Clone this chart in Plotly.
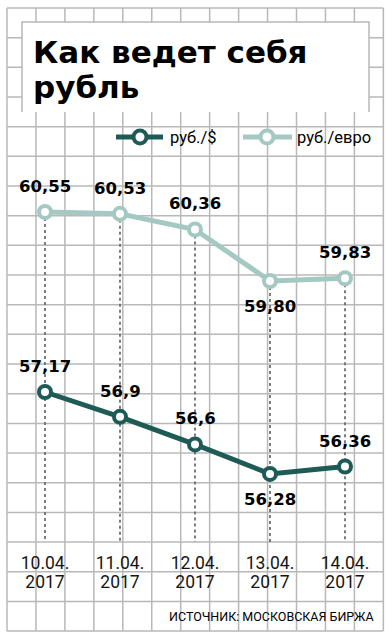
import plotly.graph_objects as go

# ---------------- data ----------------
DATES = ["10.04.2017", "11.04.2017", "12.04.2017", "13.04.2017", "14.04.2017"]
TICK_DAY = ["10.04.", "11.04.", "12.04.", "13.04.", "14.04."]
TICK_YEAR = ["2017", "2017", "2017", "2017", "2017"]
USD = [57.17, 56.9, 56.6, 56.28, 56.36]
EUR = [60.55, 60.53, 60.36, 59.80, 59.83]
USD_LABELS = ["57,17", "56,9", "56,6", "56,28", "56,36"]
EUR_LABELS = ["60,55", "60,53", "60,36", "59,80", "59,83"]
USD_NAME = "руб./$"
EUR_NAME = "руб./евро"
TITLE_1 = "Как ведет себя"
TITLE_2 = "рубль"
SOURCE = "ИСТОЧНИК: МОСКОВСКАЯ БИРЖА"

# label placement (style): +1 above, -1 below
USD_POS = [1, 1, 1, -1, 1]
EUR_POS = [1, 1, 1, -1, 1]

# ---------------- style ----------------
W, H = 392, 640
DARK = "#1f5b56"
LIGHT = "#a4c8c2"
GRID = "#b8b8b8"
PX_PER_UNIT = 92.0

def fx(x):
    return x / W

def fy(y):
    return 1 - y / H

# axis ranges so that both series share the same scale
EUR_TOP = 60.55 + 212 / PX_PER_UNIT
EUR_RANGE = [EUR_TOP - H / PX_PER_UNIT, EUR_TOP]
USD_TOP = 57.17 + 392 / PX_PER_UNIT
USD_RANGE = [USD_TOP - H / PX_PER_UNIT, USD_TOP]
DOT_BOTTOM = EUR_TOP - 542 / PX_PER_UNIT

fig = go.Figure()

fig.add_trace(go.Scatter(
    x=DATES, y=USD, mode="lines+markers", name=USD_NAME, yaxis="y2",
    line=dict(color=DARK, width=5),
    marker=dict(size=12, color="white", line=dict(color=DARK, width=4)),
    showlegend=False, hoverinfo="skip"))
fig.add_trace(go.Scatter(
    x=DATES, y=EUR, mode="lines+markers", name=EUR_NAME, yaxis="y",
    line=dict(color=LIGHT, width=5),
    marker=dict(size=12, color="white", line=dict(color=LIGHT, width=4)),
    showlegend=False, hoverinfo="skip"))

shapes = []
# background grid
VX = [7 + 28.95 * k for k in range(14)]
HY = [8 + 29.67 * k for k in range(22)]
for x in VX:
    shapes.append(dict(type="line", xref="paper", yref="paper",
                       x0=fx(x), x1=fx(x), y0=fy(HY[0]), y1=fy(HY[-1]),
                       line=dict(color=GRID, width=1.5), layer="between"))
for y in HY:
    shapes.append(dict(type="line", xref="paper", yref="paper",
                       x0=fx(VX[0]), x1=fx(VX[-1]), y0=fy(y), y1=fy(y),
                       line=dict(color=GRID, width=1.5), layer="between"))
# title box
shapes.append(dict(type="rect", xref="paper", yref="paper",
                   x0=fx(22), x1=fx(369), y0=fy(112), y1=fy(22),
                   fillcolor="white", line=dict(width=0), layer="between"))
shapes.append(dict(type="path", xref="paper", yref="paper",
                   path=f"M{fx(22)},{fy(112)} L{fx(22)},{fy(22)} L{fx(369)},{fy(22)} L{fx(369)},{fy(112)}",
                   line=dict(color=GRID, width=1.5), layer="between"))
# dotted drop lines
for d, v in zip(DATES, EUR):
    shapes.append(dict(type="line", xref="x", yref="y", x0=d, x1=d,
                       y0=v, y1=DOT_BOTTOM,
                       line=dict(color="#707070", width=1.8, dash="dot"),
                       layer="between"))
# legend symbols
for (x0, x1, cx, col) in [(116, 163, 140, DARK), (243, 292, 267, LIGHT)]:
    shapes.append(dict(type="line", xref="paper", yref="paper",
                       x0=fx(x0), x1=fx(x1), y0=fy(137), y1=fy(137),
                       line=dict(color=col, width=5), layer="above"))
    shapes.append(dict(type="circle", xref="paper", yref="paper",
                       x0=fx(cx - 6.5), x1=fx(cx + 6.5), y0=fy(137 + 6.5), y1=fy(137 - 6.5),
                       fillcolor="white", line=dict(color=col, width=4), layer="above"))

annotations = []
LABEL_FONT = dict(family="DejaVu Sans", size=16.5, color="black", weight="bold")
for d, v, t, p in zip(DATES, USD, USD_LABELS, USD_POS):
    annotations.append(dict(x=d, y=v, xref="x", yref="y2", text=t, showarrow=False,
                            yshift=25.5 * p, font=LABEL_FONT))
for d, v, t, p in zip(DATES, EUR, EUR_LABELS, EUR_POS):
    annotations.append(dict(x=d, y=v, xref="x", yref="y", text=t, showarrow=False,
                            yshift=25.5 * p, font=LABEL_FONT))

TITLE_FONT = dict(family="DejaVu Sans", size=31, color="black", weight="bold")
annotations.append(dict(x=fx(31), y=fy(52), xref="paper", yref="paper", text=TITLE_1,
                        showarrow=False, xanchor="left", yanchor="middle", font=TITLE_FONT))
annotations.append(dict(x=fx(31), y=fy(87), xref="paper", yref="paper", text=TITLE_2,
                        showarrow=False, xanchor="left", yanchor="middle", font=TITLE_FONT))
LEG_FONT = dict(family="Roboto", size=16.5, color="black")
annotations.append(dict(x=fx(168), y=fy(137), xref="paper", yref="paper", text=USD_NAME,
                        showarrow=False, xanchor="left", yanchor="middle", font=LEG_FONT))
annotations.append(dict(x=fx(295), y=fy(137), xref="paper", yref="paper", text=EUR_NAME,
                        showarrow=False, xanchor="left", yanchor="middle", font=LEG_FONT))
annotations.append(dict(x=fx(376), y=fy(616), xref="paper", yref="paper", text=SOURCE,
                        showarrow=False, xanchor="right", yanchor="middle",
                        font=dict(family="Roboto", size=12.5, color="black")))

TICK_FONT = dict(family="Roboto", size=17.5, color="#151515")
fig.update_layout(
    width=W, height=H, autosize=False,
    margin=dict(l=0, r=0, t=0, b=0),
    paper_bgcolor="white", plot_bgcolor="rgba(0,0,0,0)",
    shapes=shapes, annotations=annotations,
    xaxis=dict(domain=[0, 1], range=[-0.6, 4.6267], type="category",
               tickvals=DATES, ticktext=TICK_DAY, anchor="free", position=fy(550),
               showgrid=False, zeroline=False, showline=False, ticks="",
               tickfont=TICK_FONT, fixedrange=True),
    xaxis2=dict(overlaying="x", matches="x", type="category",
                tickvals=DATES, ticktext=TICK_YEAR, anchor="free", position=fy(569),
                showgrid=False, zeroline=False, showline=False, ticks="",
                tickfont=TICK_FONT, side="bottom"),
    yaxis=dict(domain=[0, 1], range=EUR_RANGE, visible=False, fixedrange=True),
    yaxis2=dict(range=USD_RANGE, overlaying="y", visible=False, fixedrange=True),
)
# dummy trace so xaxis2 is drawn
fig.add_trace(go.Scatter(x=DATES, y=EUR, xaxis="x2", yaxis="y", mode="none",
                         showlegend=False, hoverinfo="skip"))

fig.write_html("out.html", config={"displayModeBar": False},
               post_script="document.body.style.margin='0';")
